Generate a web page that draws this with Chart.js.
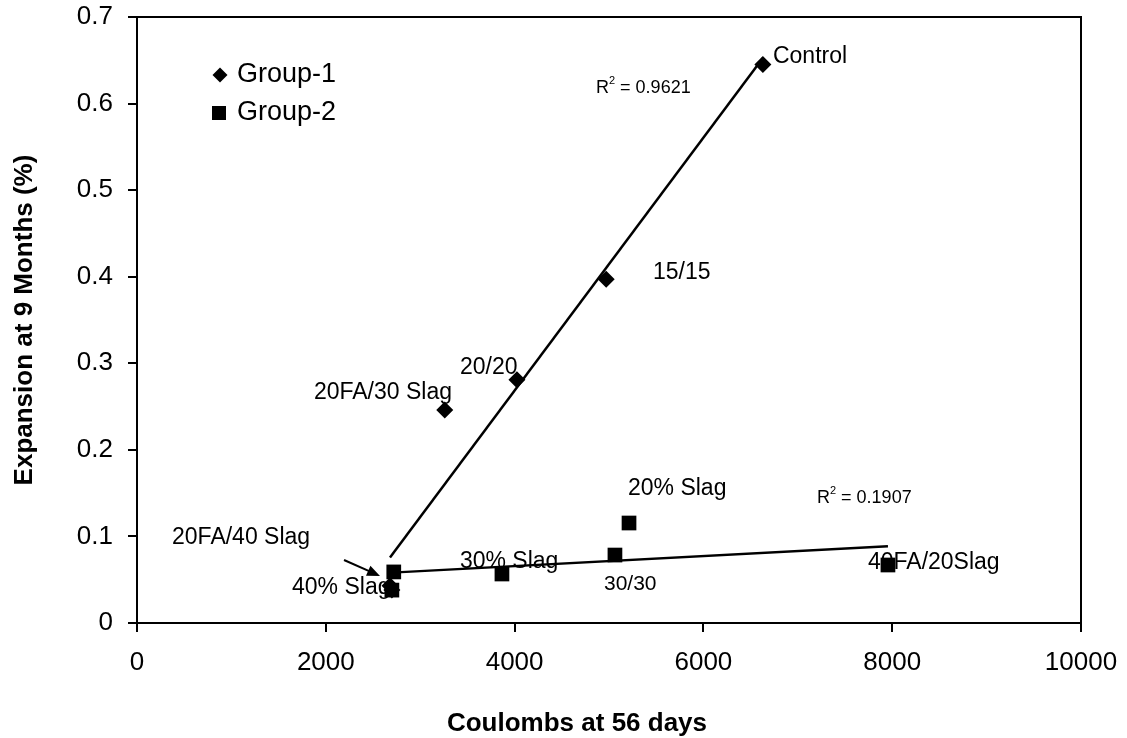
<!DOCTYPE html>
<html lang="en">
<head>
    <meta charset="UTF-8">
    <title>Expansion vs Coulombs</title>
    <script src="https://cdn.jsdelivr.net/npm/chart.js"></script>
    <style>
        body {
            margin: 0;
            padding: 0;
            background-color: #ffffff;
        }
        #wrap {
            width: 1127px;
            height: 738px;
            position: relative;
        }
    </style>
</head>
<body>

    <div id="wrap">
        <canvas id="expansionChart"></canvas>
    </div>

    <script>
        // data
        var group1X = [6630, 4970, 4025, 3260, 2680, 2700];
        var group1Y = [0.645, 0.397, 0.281, 0.246, 0.043, 0.038];
        var group2X = [2720, 3866, 5063, 5212, 7955, 2700];
        var group2Y = [0.059, 0.0566, 0.0785, 0.1155, 0.067, 0.038];
        var seriesNames = ['Group-1', 'Group-2'];
        var xTickLabels = ['0', '2000', '4000', '6000', '8000', '10000'];
        var yTickLabels = ['0', '0.1', '0.2', '0.3', '0.4', '0.5', '0.6', '0.7'];
        var r2Labels = ['0.9621', '0.1907'];

        var FONT = "'Liberation Sans', Arial, sans-serif";

        // text notes placed in data units
        var notes = [
            { text: 'Control', x: 6737, y: 0.654, size: 23 },
            { text: '15/15', x: 5466, y: 0.405, size: 23 },
            { text: '20/20', x: 3421, y: 0.2946, size: 23 },
            { text: '20FA/30 Slag', x: 3337, y: 0.2657, size: 23, align: 'right' },
            { text: '20FA/40 Slag', x: 371, y: 0.0982, size: 23 },
            { text: '40% Slag', x: 1642, y: 0.0404, size: 23 },
            { text: '30% Slag', x: 3421, y: 0.0705, size: 23 },
            { text: '30/30', x: 4947, y: 0.045, size: 21 },
            { text: '20% Slag', x: 5201, y: 0.1548, size: 23 },
            { text: '40FA/20Slag', x: 7743, y: 0.0693, size: 23 }
        ];
        var r2Pos = [{ x: 4862, y: 0.618 }, { x: 7203, y: 0.1444 }];

        function toPoints(xs, ys) {
            return xs.map(function (x, i) { return { x: x, y: ys[i] }; });
        }

        // least squares line across the x range of a group
        function trend(xs, ys) {
            var n = xs.length, mx = 0, my = 0;
            for (var i = 0; i < n; i++) { mx += xs[i]; my += ys[i]; }
            mx /= n; my /= n;
            var sxy = 0, sxx = 0;
            for (var j = 0; j < n; j++) {
                sxy += (xs[j] - mx) * (ys[j] - my);
                sxx += (xs[j] - mx) * (xs[j] - mx);
            }
            var b = sxy / sxx, a = my - b * mx;
            var lo = Math.min.apply(null, xs), hi = Math.max.apply(null, xs);
            return [{ x: lo, y: a + b * lo }, { x: hi, y: a + b * hi }];
        }

        var extras = {
            id: 'extras',
            afterDraw: function (chart) {
                var ctx = chart.ctx, area = chart.chartArea;
                var sx = chart.scales.x, sy = chart.scales.y;
                ctx.save();

                // top and right frame
                ctx.strokeStyle = '#000';
                ctx.lineWidth = 2;
                ctx.beginPath();
                ctx.moveTo(area.left, area.top);
                ctx.lineTo(area.right, area.top);
                ctx.lineTo(area.right, area.bottom);
                ctx.stroke();

                ctx.fillStyle = '#000';
                ctx.textBaseline = 'middle';

                notes.forEach(function (n) {
                    ctx.font = n.size + 'px ' + FONT;
                    ctx.textAlign = n.align || 'left';
                    ctx.fillText(n.text, sx.getPixelForValue(n.x), sy.getPixelForValue(n.y));
                });

                // R squared notes
                r2Pos.forEach(function (p, i) {
                    var px = sx.getPixelForValue(p.x), py = sy.getPixelForValue(p.y);
                    ctx.textAlign = 'left';
                    ctx.font = '18px ' + FONT;
                    ctx.fillText('R', px, py);
                    var w = ctx.measureText('R').width;
                    ctx.font = '11px ' + FONT;
                    ctx.fillText('2', px + w, py - 7);
                    var w2 = ctx.measureText('2').width;
                    ctx.font = '18px ' + FONT;
                    ctx.fillText(' = ' + r2Labels[i], px + w + w2, py);
                });

                // arrow to 20FA/40 Slag
                var ax0 = sx.getPixelForValue(2193), ay0 = sy.getPixelForValue(0.0728);
                var ax1 = sx.getPixelForValue(2574), ay1 = sy.getPixelForValue(0.0543);
                var ang = Math.atan2(ay1 - ay0, ax1 - ax0);
                ctx.lineWidth = 2;
                ctx.beginPath();
                ctx.moveTo(ax0, ay0);
                ctx.lineTo(ax1 - 10 * Math.cos(ang), ay1 - 10 * Math.sin(ang));
                ctx.stroke();
                ctx.beginPath();
                ctx.moveTo(ax1, ay1);
                ctx.lineTo(ax1 - 14 * Math.cos(ang - 0.4), ay1 - 14 * Math.sin(ang - 0.4));
                ctx.lineTo(ax1 - 14 * Math.cos(ang + 0.4), ay1 - 14 * Math.sin(ang + 0.4));
                ctx.closePath();
                ctx.fill();

                // legend inside plot
                var lx = area.left + 83, ly = area.top + 58;
                ctx.beginPath();
                ctx.moveTo(lx, ly - 7.5);
                ctx.lineTo(lx + 7.5, ly);
                ctx.lineTo(lx, ly + 7.5);
                ctx.lineTo(lx - 7.5, ly);
                ctx.closePath();
                ctx.fill();
                ctx.fillRect(lx - 8, ly + 31, 14, 14);
                ctx.font = '27px ' + FONT;
                ctx.textAlign = 'left';
                ctx.fillText(seriesNames[0], lx + 17, ly);
                ctx.fillText(seriesNames[1], lx + 17, ly + 38);

                // x axis title
                ctx.font = 'bold 26px ' + FONT;
                ctx.textAlign = 'center';
                ctx.fillText('Coulombs at 56 days', 577, 724);

                ctx.restore();
            }
        };

        document.addEventListener('DOMContentLoaded', function () {
            var ctx = document.getElementById('expansionChart').getContext('2d');
            var expansionChart = new Chart(ctx, {
                type: 'scatter',
                data: {
                    datasets: [{
                        label: seriesNames[0] + ' trend',
                        type: 'line',
                        data: trend(group1X, group1Y),
                        borderColor: '#000',
                        borderWidth: 2.5,
                        pointRadius: 0,
                        fill: false
                    }, {
                        label: seriesNames[1] + ' trend',
                        type: 'line',
                        data: trend(group2X, group2Y),
                        borderColor: '#000',
                        borderWidth: 2.5,
                        pointRadius: 0,
                        fill: false
                    }, {
                        label: seriesNames[0],
                        data: toPoints(group1X, group1Y),
                        pointStyle: 'rectRot',
                        pointRadius: 8.5,
                        backgroundColor: '#000',
                        borderColor: '#000',
                        borderWidth: 0
                    }, {
                        label: seriesNames[1],
                        data: toPoints(group2X, group2Y),
                        pointStyle: 'rect',
                        pointRadius: 10.4,
                        backgroundColor: '#000',
                        borderColor: '#000',
                        borderWidth: 0
                    }]
                },
                options: {
                    responsive: true,
                    maintainAspectRatio: false,
                    animation: false,
                    layout: {
                        padding: { top: 17, right: 46, bottom: 0, left: 0 }
                    },
                    plugins: {
                        legend: { display: false },
                        tooltip: { enabled: false }
                    },
                    scales: {
                        x: {
                            type: 'linear',
                            min: 0,
                            max: 10000,
                            afterFit: function (scale) {
                                scale.height = 115;
                                scale.paddingLeft = 0;
                                scale.paddingRight = 0;
                            },
                            border: { display: true, color: '#000', width: 2 },
                            grid: { display: true, drawOnChartArea: false, drawTicks: true, tickLength: 9, color: '#000', lineWidth: 2 },
                            ticks: {
                                stepSize: 2000,
                                padding: 15,
                                color: '#000',
                                maxRotation: 0,
                                font: { family: FONT, size: 26 },
                                callback: function (v, i) { return xTickLabels[i]; }
                            }
                        },
                        y: {
                            type: 'linear',
                            min: 0,
                            max: 0.7,
                            afterFit: function (scale) {
                                scale.width = 137;
                                scale.paddingTop = 0;
                                scale.paddingBottom = 0;
                            },
                            border: { display: true, color: '#000', width: 2 },
                            grid: { display: true, drawOnChartArea: false, drawTicks: true, tickLength: 9, color: '#000', lineWidth: 2 },
                            title: {
                                display: true,
                                text: 'Expansion at 9 Months (%)',
                                color: '#000',
                                padding: { top: 9, bottom: 0 },
                                font: { family: FONT, size: 26, weight: 'bold' }
                            },
                            ticks: {
                                stepSize: 0.1,
                                padding: 15,
                                color: '#000',
                                font: { family: FONT, size: 26 },
                                callback: function (v, i) { return yTickLabels[i]; }
                            }
                        }
                    }
                },
                plugins: [extras]
            });
        });
    </script>
</body>
</html>
